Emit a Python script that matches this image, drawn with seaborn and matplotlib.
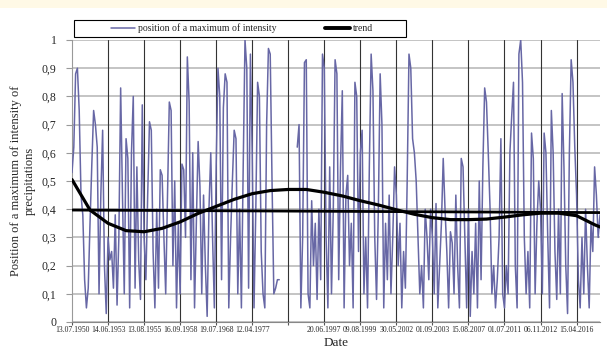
import numpy as np
import pandas as pd
import matplotlib
matplotlib.use("Agg")
import matplotlib.pyplot as plt
from matplotlib.lines import Line2D
from matplotlib.patches import Rectangle
import seaborn as sns

nan = np.nan
# ---- data (20 points per labelled interval) ----
values = [
    0.53, 0.62, 0.88, 0.90, 0.75, 0.45, 0.38, 0.15, 0.05, 0.12, 0.35, 0.56, 0.75, 0.70, 0.62, 0.10, 0.45, 0.68, 0.20, 0.03,
    0.30, 0.22, 0.25, 0.12, 0.38, 0.06, 0.30, 0.83, 0.45, 0.10, 0.65, 0.58, 0.05, 0.60, 0.80, 0.12, 0.55, 0.22, 0.08, 0.77,
    0.30, 0.15, 0.45, 0.71, 0.68, 0.25, 0.05, 0.40, 0.12, 0.54, 0.52, 0.30, 0.10, 0.45, 0.78, 0.75, 0.20, 0.50, 0.05, 0.35,
    0.10, 0.56, 0.54, 0.30, 0.94, 0.78, 0.15, 0.60, 0.05, 0.35, 0.64, 0.48, 0.10, 0.45, 0.20, 0.02, 0.40, 0.60, 0.30, 0.05,
    0.55, 0.90, 0.80, 0.15, 0.76, 0.88, 0.85, 0.05, 0.30, 0.50, 0.68, 0.65, 0.10, 0.40, 0.05, 0.55, 1.00, 0.90, 0.12, 0.95,
    0.60, 0.05, 0.40, 0.85, 0.80, 0.25, 0.10, 0.05, 0.70, 0.97, 0.95, 0.50, 0.10, 0.12, 0.15, 0.15, nan, nan, nan, nan,
    nan, nan, nan, nan, nan, 0.62, 0.70, 0.05, 0.30, 0.92, 0.93, 0.10, 0.05, 0.43, 0.20, 0.35, 0.08, 0.40, 0.15, 0.95,
    0.90, 0.30, 0.05, 0.55, 0.10, 0.40, 0.93, 0.88, 0.15, 0.55, 0.82, 0.05, 0.45, 0.52, 0.20, 0.35, 0.05, 0.85, 0.80, 0.25,
    0.60, 0.68, 0.10, 0.30, 0.05, 0.55, 0.95, 0.82, 0.30, 0.08, 0.40, 0.88, 0.70, 0.05, 0.35, 0.15, 0.45, 0.10, 0.30, 0.55,
    0.45, 0.20, 0.35, 0.05, 0.25, 0.12, 0.50, 0.95, 0.90, 0.65, 0.60, 0.50, 0.30, 0.10, 0.20, 0.05, 0.40, 0.30, 0.15, 0.40,
    0.30, 0.10, 0.42, 0.05, 0.20, 0.35, 0.58, 0.40, 0.25, 0.05, 0.32, 0.28, 0.10, 0.45, 0.20, 0.05, 0.58, 0.55, 0.30, 0.05,
    0.40, 0.02, 0.25, 0.10, 0.35, 0.05, 0.50, 0.15, 0.55, 0.83, 0.78, 0.60, 0.40, 0.10, 0.20, 0.05, 0.15, 0.30, 0.65, 0.10,
    0.05, 0.20, 0.10, 0.60, 0.73, 0.85, 0.20, 0.05, 0.95, 1.00, 0.85, 0.30, 0.10, 0.25, 0.05, 0.67, 0.58, 0.10, 0.35, 0.50,
    0.40, 0.10, 0.67, 0.60, 0.30, 0.05, 0.75, 0.60, 0.25, 0.08, 0.40, 0.10, 0.81, 0.55, 0.20, 0.03, 0.60, 0.93, 0.85, 0.62,
    0.45, 0.15, 0.05, 0.30, 0.10, 0.40, 0.20, 0.05, 0.35, 0.25, 0.55, 0.45, 0.30, 0.38,
]

trend_idx = [0, 10, 20, 30, 40, 50, 60, 70, 80, 90, 100, 110, 120, 130, 140, 150,
             160, 170, 180, 190, 200, 210, 220, 230, 240, 250, 260, 270, 280, 290, 293]
trend_val = [0.505, 0.397, 0.35, 0.324, 0.32, 0.332, 0.355, 0.385, 0.41, 0.435, 0.455,
             0.466, 0.47, 0.47, 0.46, 0.447, 0.43, 0.415, 0.398, 0.382, 0.37, 0.363,
             0.363, 0.365, 0.372, 0.38, 0.386, 0.386, 0.377, 0.345, 0.337]

linear_idx = [0, 293]
linear_val = [0.397, 0.388]

tick_labels = ["13.07.1950", "14.06.1953", "13.08.1955", "16.09.1958", "19.07.1968",
               "12.04.1977", "", "20.06.1997", "09.08.1999", "30.05.2002", "01.09.2003",
               "15.08.2007", "01.07.2011", "06.11.2012", "15.04.2016"]
tick_step = 20

# ---- build frames ----
n = len(values)
idx = np.arange(n)
vals = np.array(values, dtype=float)
seg = np.cumsum(np.isnan(vals))
df = pd.DataFrame({"i": idx, "v": vals, "seg": seg}).dropna()

series_color = "#6767A5"
serif = ["Liberation Serif", "DejaVu Serif"]

sns.set_style("white")
plt.rcParams["font.family"] = serif

fig = plt.figure(figsize=(6.07, 3.5), dpi=100)
fig.patches.append(Rectangle((0, 1 - 8 / 350), 1, 8 / 350, transform=fig.transFigure,
                             facecolor="#FFF9E6", edgecolor="none", zorder=0))
ax = fig.add_axes([72 / 607, 1 - 322 / 350, (600 - 72) / 607, (322 - 40) / 350])

sns.lineplot(data=df, x="i", y="v", units="seg", estimator=None, color=series_color,
             lw=1.1, ax=ax, zorder=3)
sns.lineplot(x=linear_idx, y=linear_val, color="black", lw=2.0, ax=ax, zorder=4)
sns.lineplot(x=trend_idx, y=trend_val, color="black", lw=2.3, ax=ax, zorder=5)

ax.set_xlim(0, n - 1)
ax.set_ylim(0, 1)
ticks = np.arange(0, len(tick_labels) * tick_step, tick_step)
ax.set_xticks(ticks)
ax.set_xticklabels(tick_labels, fontsize=5.5)
ax.set_yticks(np.arange(0, 1.01, 0.1))
ax.set_yticklabels([("%.1f" % t).replace(".", ",").replace("0,0", "0").replace("1,0", "1")
                    for t in np.arange(0, 1.01, 0.1)], fontsize=8.5)

ax.grid(axis="y", color="#BFBFBF", lw=1.3, zorder=1)
for t in ticks[1:]:
    ax.axvline(t, color="#333333", lw=0.8, zorder=2)
ax.tick_params(axis="x", length=2.5, width=0.8, color="#555555", pad=0.5)
ax.tick_params(axis="y", length=4, width=0.8, color="#999999", pad=7)
ax.yaxis.set_ticks_position("left")
ax.xaxis.set_ticks_position("bottom")

for s in ["top", "right"]:
    ax.spines[s].set_visible(False)
ax.spines["left"].set_color("#999999")
ax.spines["bottom"].set_color("#888888")

ax.set_xlabel("Date", fontsize=9.5, labelpad=2)
ax.set_ylabel("Position of a maximum of intensity of\nprecipitations", fontsize=9, labelpad=4)

# legend frame drawn separately, legend entries placed inside it
fig.patches.append(Rectangle((74 / 607, 1 - 37 / 350), 332 / 607, 17 / 350,
                             transform=fig.transFigure, facecolor="white",
                             edgecolor="black", lw=0.8, zorder=5))
handles = [Line2D([], [], color=series_color, lw=1.1),
           Line2D([], [], color="black", lw=2.8)]
leg = fig.legend(handles, ["position of a maximum of intensity", "trend"],
                 loc="center", bbox_to_anchor=(242 / 607, 1 - 28.5 / 350),
                 ncol=2, fontsize=7, frameon=False, borderpad=0.0,
                 handlelength=2.5, handletextpad=0.3, columnspacing=5.0)
leg.set_zorder(6)

fig.savefig("out.png", dpi=100)
